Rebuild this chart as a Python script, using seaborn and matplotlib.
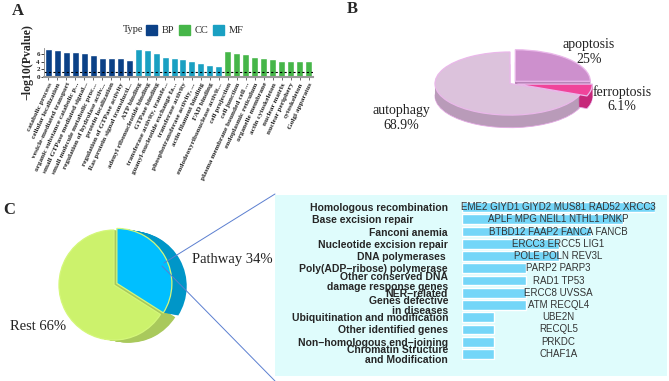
import numpy as np
import pandas as pd
import seaborn as sns
import matplotlib.pyplot as plt
from matplotlib.patches import Patch, Rectangle
from matplotlib.lines import Line2D

# ---- panel A: GO enrichment ----
go_terms = [
    "catabolic process", "cellular localization", "vesicle-mediated transport",
    "organic substance catabolic p...", "small GTPase mediated signal...",
    "small molecule metabolic proc...", "regulation of hydrolase activ...",
    "protein localization", "regulation of GTPase activity",
    "Ras protein signal transducti...",
    "ATP binding", "adenyl ribonucleotide binding", "GTPase binding",
    "transferase activity, transfe...", "guanyl-nucleotide exchange fa...",
    "transferase activity", "phosphotransferase activity, ...",
    "actin filament binding", "FAD binding", "endodeoxyribonuclease activit...",
    "cell projection", "cell junction", "plasma membrane bounded cell ...",
    "endoplasmic reticulum", "organelle membrane", "actin cytoskeleton",
    "nuclear matrix", "nuclear periphery", "cytoskeleton", "Golgi apparatus",
]
go_types = ["BP"] * 10 + ["MF"] * 10 + ["CC"] * 10
go_logp = [7.4, 7.0, 6.6, 6.6, 6.2, 5.7, 4.9, 4.9, 4.9, 4.5,
           7.4, 7.1, 6.3, 5.3, 5.1, 4.7, 4.3, 3.7, 3.2, 2.9,
           6.7, 6.4, 6.1, 5.3, 5.1, 4.6, 4.3, 4.3, 4.3, 4.1]
type_names = ["BP", "CC", "MF"]
type_colors = {"BP": "#0b4187", "CC": "#46b649", "MF": "#1aa0c2"}
p_cut = 1.3

# ---- panel B: cell death share ----
death_names = ["apoptosis", "ferroptosis", "autophagy"]
death_share = [25, 6.1, 68.9]
death_labels = ["25%", "6.1%", "68.9%"]

# ---- panel C: DNA repair pathways ----
split_names = ["Pathway", "Rest"]
split_share = [34, 66]
repair_paths = [
    "Homologous recombination", "Base excision repair            ",
    "Fanconi anemia", "Nucleotide excision repair", "DNA polymerases ",
    "Poly(ADP\u2212ribose) polymerase", "Other conserved DNA\ndamage response genes",
    "NER\u2212related", "Genes defective\nin diseases",
    "Ubiquitination and modification", "Other identified genes",
    "Non\u2212homologous end\u2212joining", "Chromatin Structure\nand Modification",
]
repair_genes = [
    "EME2 GIYD1 GIYD2 MUS81 RAD52 XRCC3", "APLF MPG NEIL1 NTHL1 PNKP",
    "BTBD12 FAAP2 FANCA FANCB", "ERCC3 ERCC5 LIG1", "POLE POLN REV3L",
    "PARP2 PARP3", "RAD1 TP53", "ERCC8 UVSSA", "ATM RECQL4",
    "UBE2N", "RECQL5", "PRKDC", "CHAF1A",
]
repair_counts = [6, 5, 4, 3, 3, 2, 2, 2, 2, 1, 1, 1, 1]

W, H = 669, 381
sns.set_theme(style="white")
plt.rcParams["font.family"] = ["Liberation Serif", "DejaVu Serif"]


def px(x0, y0, x1, y1):
    return [x0 / W, 1 - y1 / H, (x1 - x0) / W, (y1 - y0) / H]


fig = plt.figure(figsize=(W / 100, H / 100), dpi=100)

# ================= A =================
df_go = pd.DataFrame({"term": go_terms, "Type": go_types, "logp": go_logp})
axa = fig.add_axes(px(44, 48, 313, 77))
sns.barplot(data=df_go, x="term", y="logp", hue="Type", palette=type_colors,
            dodge=False, width=0.78, legend=False, ax=axa, saturation=1)
axa.axhline(p_cut, color="black", lw=0.8, ls=(0, (2, 2)))
axa.set_ylim(0, 7.6)
axa.set_yticks([0, 2, 4, 6])
axa.set_xlabel("")
axa.set_ylabel("\u2212log10(Pvalue)", fontsize=8.5, fontweight="bold", labelpad=2)
axa.tick_params(axis="y", labelsize=5, length=2, width=0.6, pad=1, left=True)
axa.tick_params(axis="x", length=2, width=0.6, pad=1.5, bottom=True, color="#555555")
axa.set_xticks(range(len(go_terms)))
axa.set_xticklabels(go_terms, rotation=65, ha="right", rotation_mode="anchor",
                    fontsize=5.3, fontweight="bold")
for lab in axa.get_yticklabels():
    lab.set_fontweight("bold")
sns.despine(ax=axa)
axa.spines["left"].set_color("#888888")
axa.spines["left"].set_linewidth(0.6)
axa.spines["bottom"].set_color("#999999")
axa.spines["bottom"].set_linewidth(1.5)

fig.text(123 / W, 1 - 30 / H, "Type", fontsize=7.5, va="center")
fig.legend(handles=[Patch(color=type_colors[t]) for t in type_names],
           labels=type_names, ncol=3, loc="center left",
           bbox_to_anchor=(146 / W, 1 - 30 / H), frameon=False,
           handlelength=1.1, handleheight=1.1, handletextpad=0.45,
           columnspacing=0.4, borderpad=0, borderaxespad=0,
           prop=dict(family="Liberation Serif", size=7.5))

fig.text(12 / W, 1 - 11 / H, "A", fontsize=12, fontweight="bold", va="center")
fig.text(347 / W, 1 - 9 / H, "B", fontsize=12, fontweight="bold", va="center")
fig.text(3 / W, 1 - 210 / H, "C", fontsize=12, fontweight="bold", va="center")

# ================= B =================
axb = fig.add_axes(px(420, 40, 600, 140))
top_b = ["#cd90cd", "#f0449a", "#dcc2dc"]
side_b = ["#b884b8", "#c6287a", "#b99bb9"]
explode_b = [0.1, 0.1, 0]
depth_b = 0.4
for k in np.linspace(depth_b, 0.02, 14):
    axb.pie(death_share, colors=side_b, startangle=90, counterclock=False,
            explode=explode_b, center=(0, -k),
            wedgeprops=dict(linewidth=0.6 if k == depth_b else 0, edgecolor="#e3a8e3"))
axb.pie(death_share, colors=top_b, startangle=90, counterclock=False,
        explode=explode_b, center=(0, 0),
        wedgeprops=dict(linewidth=0.9, edgecolor="#eab8ea"))
axb.set_aspect("auto")
axb.set_xlim(-1.2, 1.2)
axb.set_ylim(-1.79, 1.38)
axb.axis("off")

label_pos_b = [(589, 52), (622, 99), (401, 118)]
for name, pct, (x, y) in zip(death_names, death_labels, label_pos_b):
    fig.text(x / W, 1 - y / H, f"{name}\n{pct}", fontsize=10, ha="center",
             va="center", linespacing=1.15, color="#222222")

# ================= C pie =================
axc = fig.add_axes(px(40, 210, 200, 360))
top_c = ["#00bfff", "#ccf26c"]
side_c = ["#0096c8", "#a9c95c"]
explode_c = [0.06, 0]
for k in np.linspace(1, 0.05, 14):
    axc.pie(split_share, colors=side_c, startangle=90, counterclock=False,
            explode=explode_c, center=(0.27 * k, -0.05 * k),
            wedgeprops=dict(linewidth=0))
axc.pie(split_share, colors=top_c, startangle=90, counterclock=False,
        explode=explode_c, center=(0, 0),
        wedgeprops=dict(linewidth=0.9, edgecolor="#d4f77a"))
axc.set_aspect("auto")
axc.set_xlim(-1.345, 1.564)
axc.set_ylim(-1.364, 1.364)
axc.axis("off")

fig.text(192 / W, 1 - 259 / H, f"{split_names[0]} {split_share[0]}%", fontsize=10.5,
         va="center", color="#222222")
fig.text(10 / W, 1 - 327 / H, f"{split_names[1]} {split_share[1]}%", fontsize=10.5,
         va="center", color="#222222")

# box and connectors
fig.add_artist(Rectangle((275 / W, 1 - 376 / H), 392 / W, 181 / H,
                         transform=fig.transFigure, facecolor="#dffcfc",
                         edgecolor="none", zorder=0))
for (x0, y0), (x1, y1) in [((164, 263), (275, 194)), ((162, 266), (275, 381))]:
    fig.add_artist(Line2D([x0 / W, x1 / W], [1 - y0 / H, 1 - y1 / H],
                          transform=fig.transFigure, color="#5b7fd0", lw=0.7))

# ================= C bars =================
df_rep = pd.DataFrame({"path": repair_paths, "n": repair_counts, "genes": repair_genes})
axr = fig.add_axes(px(462, 201, 655, 360))
axr.set_facecolor("none")
sns.barplot(data=df_rep, y="path", x="n", color="#74d6f8", saturation=1,
            width=0.8, ax=axr)
axr.set_xlim(0, 6)
axr.set_ylim(len(repair_paths) - 0.5, -0.5)
axr.set_xlabel("")
axr.set_ylabel("")
axr.set_xticks([])
axr.tick_params(axis="y", length=0, pad=10)
for lab in axr.get_yticklabels():
    lab.set_family(["Liberation Sans", "DejaVu Sans"])
    lab.set_fontweight("bold")
    lab.set_fontsize(7.5)
    lab.set_linespacing(1.05)
for i, g in enumerate(repair_genes):
    axr.text(3, i, g, ha="center", va="center", fontsize=7,
             family=["Liberation Sans", "DejaVu Sans"], color="#333333")
sns.despine(ax=axr, left=True, bottom=True)

fig.savefig("out.png", dpi=100)
